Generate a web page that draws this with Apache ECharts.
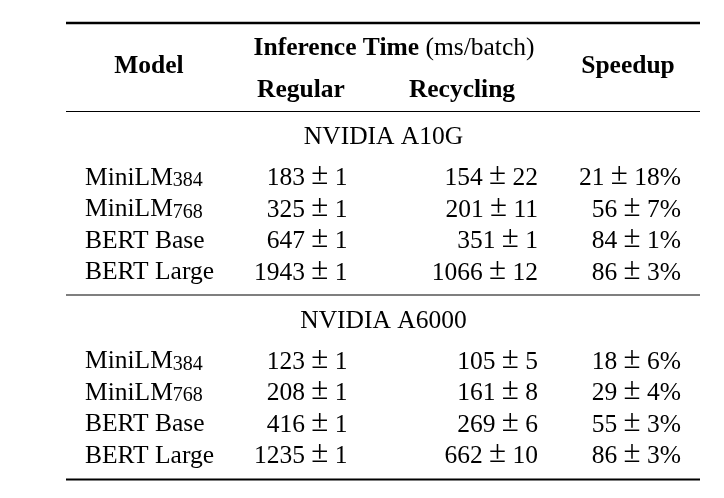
<!DOCTYPE html>
<html>
<head>
<meta charset="utf-8">
<script src="https://cdn.jsdelivr.net/npm/echarts@6/dist/echarts.min.js"></script>
<style>
html,body{margin:0;padding:0;background:#fff;}
#c{width:724px;height:498px;}
</style>
</head>
<body>
<div id="c"></div>
<script>
// ---- data ----
const modelNames = ['MiniLM', 'MiniLM', 'BERT Base', 'BERT Large'];
const modelSubs = ['384', '768', '', ''];
const gpuNames = ['NVIDIA A10G', 'NVIDIA A6000'];
const columnHeaders = ['Model', 'Regular', 'Recycling', 'Speedup'];
const groupHeader = 'Inference Time';
const groupUnit = '(ms/batch)';

const a10gRegular = [183, 325, 647, 1943];
const a10gRegularErr = [1, 1, 1, 1];
const a10gRecycling = [154, 201, 351, 1066];
const a10gRecyclingErr = [22, 11, 1, 12];
const a10gSpeedup = [21, 56, 84, 86];
const a10gSpeedupErr = [18, 7, 1, 3];

const a6000Regular = [123, 208, 416, 1235];
const a6000RegularErr = [1, 1, 1, 1];
const a6000Recycling = [105, 161, 269, 662];
const a6000RecyclingErr = [5, 8, 6, 10];
const a6000Speedup = [18, 29, 55, 86];
const a6000SpeedupErr = [6, 4, 3, 3];

// ---- layout ----
const FONT = '"Liberation Serif", "Times New Roman", serif';
const FS = 25.5;
const colModelX = 85, colRegularX = 347.5, colRecyclingX = 538, colSpeedupX = 681;
const ruleX0 = 66, ruleX1 = 700;
const rowPitch = 31.5;
const sections = [
  { gpuY: 135, firstRowY: 176, reg: a10gRegular, regE: a10gRegularErr, rec: a10gRecycling, recE: a10gRecyclingErr, sp: a10gSpeedup, spE: a10gSpeedupErr },
  { gpuY: 319.5, firstRowY: 359.5, reg: a6000Regular, regE: a6000RegularErr, rec: a6000Recycling, recE: a6000RecyclingErr, sp: a6000Speedup, spE: a6000SpeedupErr }
];
const rules = [[23, 2.4], [111.5, 1.2], [295, 1.2], [479.5, 2.2]];

const cells = [];
function addCell(x, y, text, align) {
  cells.push({ x, y, text, align });
}
function pm(v, e, suffix) {
  return '{n|' + v + ' }{p|\u00B1}{n| ' + e + (suffix || '') + '}';
}
// headers
addCell(149, 64.5, '{b|' + columnHeaders[0] + '}', 'center');
addCell(394, 46.5, '{b|' + groupHeader + '}{n| ' + groupUnit + '}', 'center');
addCell(301, 88.5, '{b|' + columnHeaders[1] + '}', 'center');
addCell(462, 88.5, '{b|' + columnHeaders[2] + '}', 'center');
addCell(628, 64.5, '{b|' + columnHeaders[3] + '}', 'center');

sections.forEach((s, si) => {
  addCell(383.5, s.gpuY, '{n|' + gpuNames[si] + '}', 'center');
  modelNames.forEach((m, i) => {
    const y = s.firstRowY + i * rowPitch;
    addCell(colModelX, y, '{m|' + m + '}' + (modelSubs[i] ? '{s|' + modelSubs[i] + '}' : ''), 'left');
    addCell(colRegularX, y, pm(s.reg[i], s.regE[i]), 'right');
    addCell(colRecyclingX, y, pm(s.rec[i], s.recE[i]), 'right');
    addCell(colSpeedupX, y, pm(s.sp[i], s.spE[i], '%'), 'right');
  });
});

const LH = 30;
const rich = {
  b: { fontFamily: FONT, fontSize: FS, fontWeight: 'bold', fill: '#000', lineHeight: LH, verticalAlign: 'bottom' },
  n: { fontFamily: FONT, fontSize: FS, fill: '#000', lineHeight: LH, verticalAlign: 'bottom' },
  p: { fontFamily: FONT, fontSize: 31, fill: '#000', lineHeight: LH + 1, verticalAlign: 'bottom' },
  m: { fontFamily: FONT, fontSize: FS, fill: '#000', lineHeight: LH, verticalAlign: 'bottom' },
  s: { fontFamily: FONT, fontSize: 20, fill: '#000', lineHeight: 18, verticalAlign: 'bottom' }
};

const chart = echarts.init(document.getElementById('c'), null, { renderer: 'canvas' });
chart.setOption({
  animation: false,
  backgroundColor: '#fff',
  grid: { left: 0, right: 0, top: 0, bottom: 0 },
  xAxis: { type: 'value', min: 0, max: 724, show: false },
  yAxis: { type: 'value', min: 0, max: 498, inverse: true, show: false },
  series: [
    {
      type: 'custom',
      coordinateSystem: 'cartesian2d',
      data: rules,
      renderItem: function (params, api) {
        const y = api.value(0);
        const p0 = api.coord([ruleX0, y]);
        const p1 = api.coord([ruleX1, y]);
        return {
          type: 'line',
          shape: { x1: p0[0], y1: p0[1], x2: p1[0], y2: p1[1] },
          style: { stroke: '#000', lineWidth: api.value(1) }
        };
      }
    },
    {
      type: 'custom',
      coordinateSystem: 'cartesian2d',
      data: cells.map(c => [c.x, c.y]),
      renderItem: function (params, api) {
        const c = cells[params.dataIndex];
        const p = api.coord([api.value(0), api.value(1)]);
        return {
          type: 'text', x: p[0], y: p[1],
          style: {
            text: c.text, align: c.align, verticalAlign: 'middle',
            fill: '#000', fontFamily: FONT, fontSize: FS, rich: rich
          }
        };
      }
    }
  ]
});
</script>
</body>
</html>
